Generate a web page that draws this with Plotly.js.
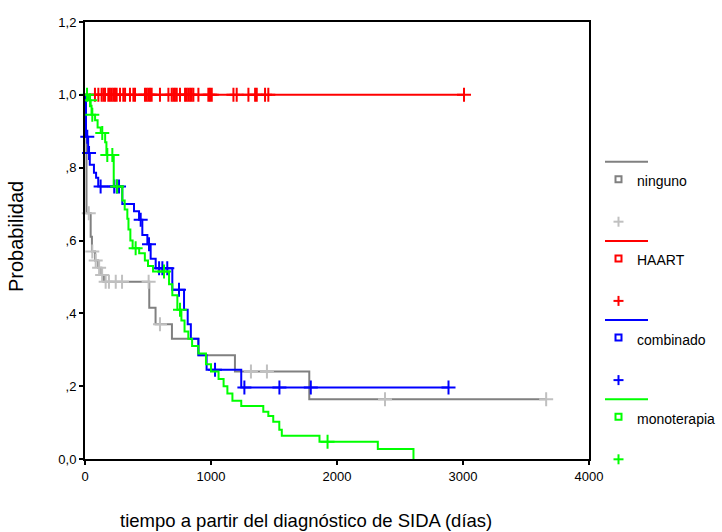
<!DOCTYPE html>
<html>
<head>
<meta charset="utf-8">
<script src="https://cdn.plot.ly/plotly-3.0.1.min.js"></script>
<style>html,body{margin:0;padding:0;background:#fff;}#chart{width:722px;height:532px;}</style>
</head>
<body>
<div id="chart"></div>
<script>
// ---- Data ----
const grupos = ["ninguno", "HAART", "combinado", "monoterapia"];

const tiempoNinguno = [0, 4, 12, 45, 55, 80, 105, 130, 150, 510, 560, 690, 900, 1190, 1780, 3660];
const survNinguno   = [1.0, 0.89, 0.675, 0.61, 0.57, 0.545, 0.525, 0.505, 0.487, 0.415, 0.37, 0.33, 0.285, 0.24, 0.164, 0.164];
const censNinguno   = [30, 58, 85, 112, 136, 164, 190, 244, 294, 505, 595, 1317, 1444, 2381, 3660];

const tiempoHAART = [0, 3010];
const survHAART   = [1.0, 1.0];
const censHAART   = [79, 106, 132, 146, 159, 185, 198, 212, 225, 238, 251, 278, 304, 318, 357, 384, 397,
                     476, 490, 503, 516, 529, 595, 662, 688, 701, 714, 728, 754, 794, 807, 820, 834, 847,
                     860, 900, 979, 992, 1006, 1178, 1204, 1297, 1350, 1363, 1429, 1455, 3008];

const tiempoCombinado = [0, 8, 25, 38, 71, 88, 105, 296, 389, 429, 455, 495, 521, 561, 693, 786, 815, 840, 900, 965, 1240, 2885];
const survCombinado   = [1.0, 0.885, 0.84, 0.808, 0.786, 0.772, 0.748, 0.70, 0.68, 0.657, 0.615, 0.59, 0.55, 0.524, 0.465, 0.41, 0.37, 0.33, 0.285, 0.245, 0.196, 0.196];
const censCombinado   = [18, 32, 124, 232, 252, 270, 442, 508, 588, 614, 653, 746, 1032, 1265, 1543, 1792, 2885];

const tiempoMono = [0, 25, 45, 52, 80, 100, 125, 160, 170, 228, 296, 315, 336, 345, 360, 378, 430, 475, 500, 540,
                    667, 693, 733, 765, 790, 820, 850, 900, 960, 1000, 1060, 1100, 1130, 1170, 1240,
                    1415, 1455, 1494, 1542, 1562, 1861, 2324, 2607];
const survMono   = [1.0, 0.985, 0.97, 0.945, 0.93, 0.91, 0.895, 0.87, 0.835, 0.748, 0.71, 0.685, 0.66, 0.63, 0.60, 0.579, 0.565, 0.545, 0.53, 0.515,
                    0.48, 0.45, 0.41, 0.38, 0.35, 0.33, 0.31, 0.29, 0.26, 0.24, 0.22, 0.20, 0.18, 0.16, 0.1456,
                    0.13, 0.118, 0.1025, 0.08, 0.064, 0.0475, 0.0275, 0];
const censMono   = [16, 40, 58, 137, 177, 217, 255, 402, 627, 754, 1925];

const xTicks = [0, 1000, 2000, 3000, 4000];
const yTicks = [0, 0.2, 0.4, 0.6, 0.8, 1.0, 1.2];
const yTickText = ["0,0", ",2", ",4", ",6", ",8", "1,0", "1,2"];

// ---- Styles ----
const lineColors = ["#808080", "#ff0000", "#0000ff", "#00ff00"];
const censColors = ["#c0c0c0", "#ff0000", "#0000ff", "#00ff00"];
const FONT = "Liberation Sans, Arial, sans-serif";

const series = [
  [tiempoNinguno, survNinguno, censNinguno],
  [tiempoHAART, survHAART, censHAART],
  [tiempoCombinado, survCombinado, censCombinado],
  [tiempoMono, survMono, censMono]
];

function survAt(t, s, x) {
  let v = s[0];
  for (let i = 0; i < t.length; i++) { if (t[i] <= x) v = s[i]; else break; }
  return v;
}

const traces = [];
series.forEach(([t, s, c], i) => {
  traces.push({
    type: "scatter", mode: "lines", x: t, y: s, name: grupos[i],
    line: {shape: "hv", color: lineColors[i], width: 2}, showlegend: false, cliponaxis: false, hoverinfo: "skip"
  });
  traces.push({
    type: "scatter", mode: "markers", x: c, y: c.map(x => survAt(t, s, x)), name: grupos[i] + " censurado",
    marker: {symbol: "cross-thin", size: 10, line: {width: 2, color: censColors[i]}},
    showlegend: false, cliponaxis: false, hoverinfo: "skip"
  });
});

// ---- Plot geometry (pixels) ----
const L = 85, R = 589, T = 22, B = 459;
const px2x = px => (px - L) / (R - L);
const py2y = py => (B - py) / (B - T);

const shapes = [];
const annotations = [];
grupos.forEach((g, i) => {
  const base = 161.7 + i * 79.2;
  shapes.push({type: "line", xref: "paper", yref: "paper", x0: px2x(605), x1: px2x(648), y0: py2y(base), y1: py2y(base),
               line: {color: lineColors[i], width: 2}});
  shapes.push({type: "rect", xref: "paper", yref: "paper", xsizemode: "pixel", ysizemode: "pixel",
               xanchor: px2x(618.5), yanchor: py2y(base + 17.5), x0: -3, x1: 3, y0: -3, y1: 3,
               line: {color: lineColors[i], width: 2}, fillcolor: "rgba(0,0,0,0)"});
  annotations.push({xref: "paper", yref: "paper", x: px2x(635), y: py2y(base + 19.5), xanchor: "left", yanchor: "middle",
                    text: g, showarrow: false, font: {family: FONT, size: 14, color: "#000"}});
  const py = base + 60;
  shapes.push({type: "line", xref: "paper", yref: "paper", xsizemode: "pixel", ysizemode: "pixel",
               xanchor: px2x(618.5), yanchor: py2y(py), x0: -5, x1: 5, y0: 0, y1: 0, line: {color: censColors[i], width: 2}});
  shapes.push({type: "line", xref: "paper", yref: "paper", xsizemode: "pixel", ysizemode: "pixel",
               xanchor: px2x(618.5), yanchor: py2y(py), x0: 0, x1: 0, y0: -5, y1: 5, line: {color: censColors[i], width: 2}});
});

annotations.push({xref: "paper", yref: "paper", x: px2x(16), y: py2y(237), xanchor: "center", yanchor: "middle", textangle: -90,
                  text: "Probabilidad", showarrow: false, font: {family: FONT, size: 20, color: "#000"}});
annotations.push({xref: "paper", yref: "paper", x: px2x(306), y: py2y(520), xanchor: "center", yanchor: "middle",
                  text: "tiempo a partir del diagnóstico de SIDA (días)", showarrow: false,
                  font: {family: FONT, size: 18.5, color: "#000"}});

const axisCommon = {
  showline: true, linecolor: "#000", linewidth: 2, mirror: true, showgrid: false, zeroline: false,
  ticks: "outside", ticklen: 4, tickwidth: 2, tickcolor: "#000",
  tickfont: {family: FONT, size: 13, color: "#000"}
};

const layout = {
  width: 722, height: 532,
  margin: {l: L, r: 722 - R, t: T, b: 532 - B, pad: 0},
  paper_bgcolor: "#fff", plot_bgcolor: "#fff",
  font: {family: FONT, color: "#000"},
  showlegend: false,
  xaxis: Object.assign({}, axisCommon, {range: [0, 4000], tickvals: xTicks, ticktext: xTicks.map(String)}),
  yaxis: Object.assign({}, axisCommon, {range: [0, 1.2], tickvals: yTicks, ticktext: yTickText}),
  shapes: shapes,
  annotations: annotations
};

Plotly.newPlot("chart", traces, layout, {staticPlot: true, displayModeBar: false});
</script>
</body>
</html>
